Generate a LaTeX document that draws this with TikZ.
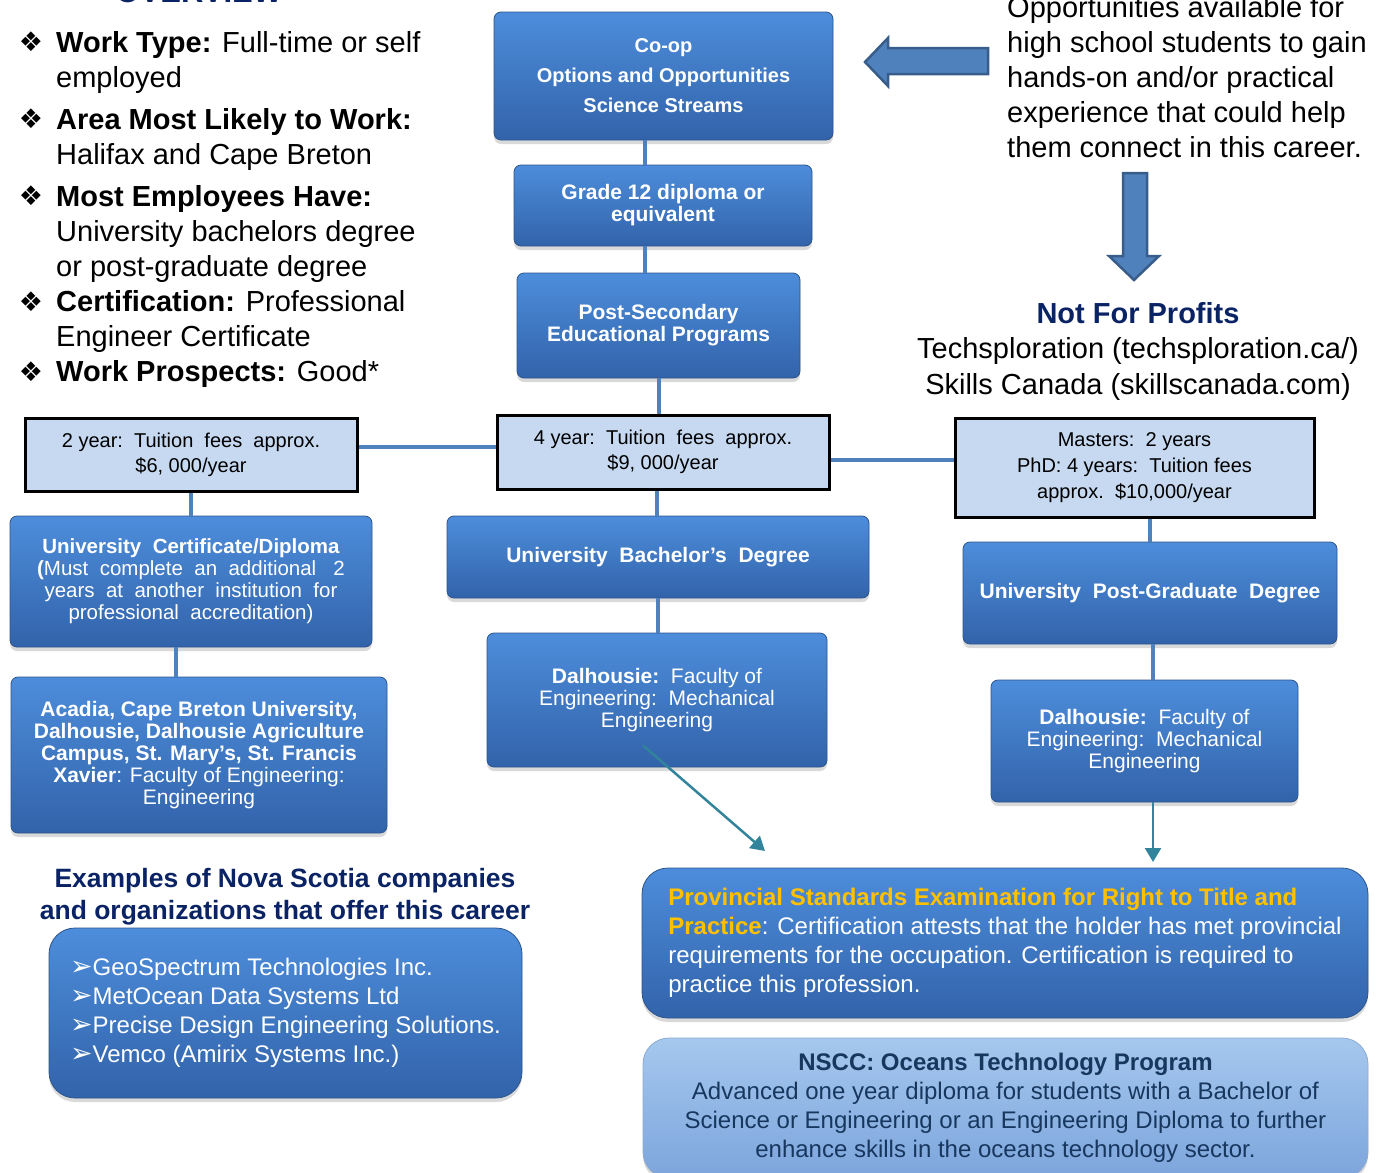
\documentclass[tikz,border=0pt]{standalone}
\usepackage{fontspec}
\setmainfont{Liberation Sans}
\newfontfamily\symbfont{DejaVu Sans}
\usepackage{tikz}
\usetikzlibrary{positioning, shadows, arrows.meta}
\definecolor{boxtop}{RGB}{77, 141, 219}
\definecolor{boxbot}{RGB}{50, 99, 170}
\definecolor{boxline}{RGB}{44, 84, 140}
\definecolor{feefill}{RGB}{198, 217, 241}
\definecolor{linkblue}{RGB}{79, 129, 189}
\definecolor{linkdark}{RGB}{56, 93, 138}
\definecolor{arrowteal}{RGB}{49, 132, 155}
\definecolor{headnavy}{RGB}{10, 35, 100}
\definecolor{gold}{RGB}{255, 192, 0}
\definecolor{paletop}{RGB}{165, 200, 238}
\definecolor{palebot}{RGB}{125, 165, 220}
\definecolor{paleline}{RGB}{140, 170, 210}
\definecolor{paletext}{RGB}{23, 55, 94}
\newcommand{\fsz}[2]{\fontsize{#1}{#2}\selectfont}
\newcommand{\arrbul}{{\symbfont\fsz{27}{29}➢}}

\begin{document}
\begin{tikzpicture}[x=1pt, y=-1pt,
  bluebox/.style={rounded corners=7pt, draw=boxline, line width=0.8pt,
    top color=boxtop, bottom color=boxbot, text=white, align=center,
    inner sep=0pt, drop shadow={opacity=0.3, shadow xshift=0pt, shadow yshift=-4pt}},
  bigbox/.style={bluebox, rounded corners=26pt},
  palebox/.style={bigbox, top color=paletop, bottom color=palebot,
    draw=paleline, text=paletext},
  feebox/.style={draw=black, line width=3pt, fill=feefill, align=center,
    inner sep=0pt, font=\fsz{20}{25}},
  item/.style={anchor=base west, align=left, inner sep=0pt, font=\fsz{29}{35}},
  link/.style={linkblue, line width=4pt},
  tealarrow/.style={arrowteal, line width=2.5pt, -{Triangle[length=14pt, width=16pt]}},
  blockarrow/.style={fill=linkblue, draw=linkdark, line width=2.5pt}]

  \useasboundingbox (0, 0) rectangle (1382, 1173);

  % overview (last line baselines)
  \node[anchor=base west, font=\bfseries\fsz{31}{31}, text=headnavy] (title) at (112, 2) {OVERVIEW};

  \node[item] (wtype) at (56, 87) {\textbf{Work Type:} Full-time or self\\employed};
  \node[item] (area) at (56, 164) {\textbf{Area Most Likely to Work:}\\Halifax and Cape Breton};
  \node[item] (emp) at (56, 276) {\textbf{Most Employees Have:}\\University bachelors degree\\or post-graduate degree};
  \node[item] (cert) at (56, 346) {\textbf{Certification:} Professional\\Engineer Certificate};
  \node[item] (prosp) at (56, 381) {\textbf{Work Prospects:} Good*};
  \foreach \n/\y in {wtype/51, area/128, emp/205, cert/311, prosp/381}
    \node[anchor=base, inner sep=0pt, font=\symbfont\fsz{27}{27}] (bul-\n) at (31, \y) {❖};

  % high school column
  \node[bluebox, minimum width=339pt, minimum height=128pt, font=\bfseries\fsz{20}{30}] (coop) at (663.5, 76)
    {Co-op\\Options and Opportunities\\Science Streams};
  \node[bluebox, minimum width=298pt, minimum height=81pt, font=\bfseries\fsz{21}{22}] (grade) at (663, 205.5)
    {Grade 12 diploma or\\equivalent};
  \node[bluebox, minimum width=283pt, minimum height=105pt, font=\bfseries\fsz{21}{22}] (postsec) at (658.5, 325.5)
    {Post-Secondary\\Educational Programs};

  % opportunities
  \draw[blockarrow] (865, 62) -- (888, 38) -- (888, 48) -- (988, 48) -- (988, 74)
    -- (888, 74) -- (888, 86) -- cycle;
  \node[anchor=base west, align=left, inner sep=0pt, font=\fsz{29}{35}] (opps) at (1007, 157)
    {Opportunities available for\\high school students to gain\\hands-on and/or practical\\experience that could help\\them connect in this career.};
  \draw[blockarrow] (1123, 173) -- (1147, 173) -- (1147, 256) -- (1159, 256)
    -- (1134, 280) -- (1109, 256) -- (1123, 256) -- cycle;
  \node[anchor=base, inner sep=0pt, font=\bfseries\fsz{29}{35}, text=headnavy] (nfp) at (1138, 323) {Not For Profits};
  \node[anchor=base, align=center, inner sep=0pt, font=\fsz{29}{36}] (nfplist) at (1138, 394)
    {Techsploration (techsploration.ca/)\\Skills Canada (skillscanada.com)};

  % fees
  \node[feebox, minimum width=332pt, minimum height=73pt] (fee2) at (191, 454.5)
    {2 year:\ \ Tuition\ \ fees\ \ approx.\\\$6, 000/year};
  \node[feebox, minimum width=332pt, minimum height=74pt] (fee4) at (663, 452)
    {4 year:\ \ Tuition\ \ fees\ \ approx.\\\$9, 000/year};
  \node[feebox, minimum width=359pt, minimum height=99pt, font=\fsz{20}{26}] (feeM) at (1134.5, 467.5)
    {Masters:\ \ 2 years\\PhD:\ 4 years:\ \ Tuition fees\\approx.\ \ \$10,000/year};

  % programs
  \node[bluebox, minimum width=362pt, minimum height=131pt, font=\fsz{20.5}{22}] (ucd) at (191, 581.5)
    {\textbf{University\ \ Certificate/Diploma}\\\textbf{(}Must\ \ complete\ \ an\ \ additional\ \ \ 2\\years\ \ at\ \ another\ \ institution\ \ for\\professional\ \ accreditation)};
  \node[bluebox, minimum width=376pt, minimum height=156pt, font=\fsz{21}{22}] (acadia) at (199, 755)
    {\textbf{Acadia,\ Cape Breton University,}\\\textbf{Dalhousie,\ Dalhousie Agriculture}\\\textbf{Campus,\ St. Mary’s,\ St. Francis}\\\textbf{Xavier}: Faculty of Engineering:\\Engineering};
  \node[bluebox, minimum width=422pt, minimum height=82pt, font=\bfseries\fsz{21}{22}] (bach) at (658, 557)
    {University\ \ Bachelor’s\ \ Degree};
  \node[bluebox, minimum width=340pt, minimum height=134pt, font=\fsz{21}{22}] (dalB) at (657, 700)
    {\textbf{Dalhousie:}\ \ Faculty of\\Engineering:\ \ Mechanical\\Engineering};
  \node[bluebox, minimum width=374pt, minimum height=102pt, font=\bfseries\fsz{21}{22}] (postG) at (1150, 593)
    {University\ \ Post-Graduate\ \ Degree};
  \node[bluebox, minimum width=307pt, minimum height=122pt, font=\fsz{21}{22}] (dalG) at (1144.5, 741)
    {\textbf{Dalhousie:}\ \ Faculty of\\Engineering:\ \ Mechanical\\Engineering};

  % bottom
  \node[anchor=base, align=center, inner sep=0pt, font=\bfseries\fsz{26.5}{32}, text=headnavy] (exhead) at (285, 919)
    {Examples of Nova Scotia companies\\and organizations that offer this career};
  \node[bigbox, minimum width=473pt, minimum height=170pt, align=left, font=\fsz{24}{29}] (comp) at (285.5, 1013)
    {\arrbul GeoSpectrum Technologies Inc.\\\arrbul MetOcean Data Systems Ltd\\\arrbul Precise Design Engineering Solutions.\\\arrbul Vemco (Amirix Systems Inc.)};
  \node[bigbox, minimum width=726pt, minimum height=150pt, align=left, font=\fsz{24}{29}] (exam) at (1005, 943)
    {\textcolor{gold}{\textbf{Provincial Standards Examination for Right to Title and}}\\\textcolor{gold}{\textbf{Practice}}: Certification attests that the holder has met provincial\\requirements for the occupation. Certification is required to\\practice this profession.};
  \node[palebox, minimum width=725pt, minimum height=140pt, font=\fsz{24}{29}] (nscc) at (1005.5, 1108)
    {\textbf{NSCC: Oceans Technology Program}\\Advanced one year diploma for students with a Bachelor of\\Science or Engineering or an Engineering Diploma to further\\enhance skills in the oceans technology sector.};

  % connectors
  \draw[link] ([xshift=-18.5pt]coop.south) -- ([xshift=-18.5pt]coop.south |- grade.north);
  \draw[link] ([xshift=-18pt]grade.south) -- ([xshift=-18pt]grade.south |- postsec.north);
  \draw[link] (postsec.south) -- (postsec.south |- fee4.north);
  \draw[link] ([yshift=7.5pt]fee2.east) -- ([yshift=7.5pt]fee2.east -| fee4.west);
  \draw[link] ([yshift=-8pt]fee4.east) -- ([yshift=-8pt]fee4.east -| feeM.west);
  \draw[link] (fee2.south) -- (fee2.south |- ucd.north);
  \draw[link] ([xshift=-15pt]ucd.south) -- ([xshift=-15pt]ucd.south |- acadia.north);
  \draw[link] ([xshift=-6pt]fee4.south) -- ([xshift=-6pt]fee4.south |- bach.north);
  \draw[link] (bach.south) -- (bach.south |- dalB.north);
  \draw[link] (postG.north |- feeM.south) -- (postG.north);
  \draw[link] ([xshift=3pt]postG.south) -- ([xshift=3pt]postG.south |- dalG.north);

  \coordinate (tipB) at (765, 851);
  \coordinate (tipG) at (1153, 862);
  \draw[tealarrow] ([xshift=-14pt, yshift=22pt]dalB.south) -- (tipB);
  \draw[tealarrow] (dalG.south -| tipG) -- (tipG);

\end{tikzpicture}
\end{document}
